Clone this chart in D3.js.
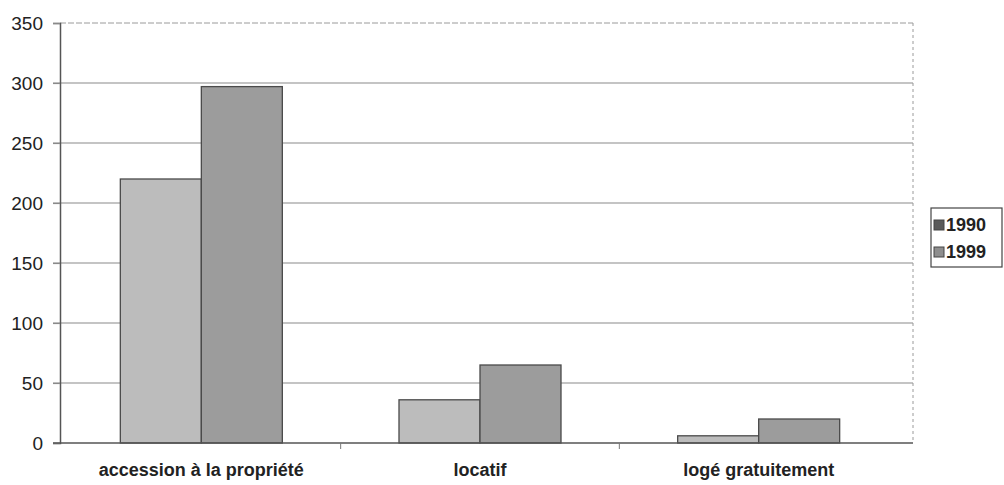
<!DOCTYPE html>
<html>
<head>
<meta charset="utf-8">
<script src="https://cdn.jsdelivr.net/npm/d3@7"></script>
<style>
  html, body { margin: 0; padding: 0; background: #fff; }
  svg { display: block; }
  text { font-family: "Liberation Sans", Arial, sans-serif; fill: #222; }
</style>
</head>
<body>
<svg id="chart" width="1004" height="485"></svg>
<script>
// Housing status counts, 1990 vs 1999
const categories = ["accession à la propriété", "locatif", "logé gratuitement"];
const series = ["1990", "1999"];
const values1990 = [220, 36, 6];
const values1999 = [297, 65, 20];
const yTicks = [0, 50, 100, 150, 200, 250, 300, 350];
const seriesColors = ["#bcbcbc", "#9c9c9c"];
const swatchColors = ["#5a5a5a", "#8e8e8e"];

const valuesBySeries = [values1990, values1999];

const svg = d3.select("#chart");

const plotLeft = 60, plotRight = 913, plotTop = 23, plotBottom = 443;

const y = d3.scaleLinear().domain([0, 350]).range([plotBottom, plotTop]);

const x0 = d3.scaleBand().domain(categories).range([62, 898]).padding(0);
const groupW = 162;
const gOff = (x0.bandwidth() - groupW) / 2;
const x1 = d3.scaleBand().domain(series).range([gOff, gOff + groupW]).padding(0);

// gridlines
svg.append("g")
  .selectAll("line")
  .data(yTicks.filter(d => d > 0 && d < 350))
  .join("line")
  .attr("x1", plotLeft - 7).attr("x2", plotRight)
  .attr("y1", d => y(d)).attr("y2", d => y(d))
  .attr("stroke", "#8a8a8a").attr("stroke-width", 1.2);

// plot frame: faint top and right edges
svg.append("line")
  .attr("x1", plotLeft).attr("x2", plotRight)
  .attr("y1", y(350)).attr("y2", y(350))
  .attr("stroke", "#9a9a9a").attr("stroke-width", 1)
  .attr("stroke-dasharray", "6,2");
svg.append("line")
  .attr("x1", plotRight).attr("x2", plotRight)
  .attr("y1", y(350)).attr("y2", y(0))
  .attr("stroke", "#9a9a9a").attr("stroke-width", 1)
  .attr("stroke-dasharray", "3,3");

// bars
const groups = svg.append("g")
  .selectAll("g")
  .data(categories)
  .join("g")
  .attr("transform", d => `translate(${x0(d)},0)`);

groups.selectAll("rect")
  .data((c, i) => series.map((s, k) => ({ s, k, v: valuesBySeries[k][i] })))
  .join("rect")
  .attr("x", d => x1(d.s))
  .attr("width", x1.bandwidth())
  .attr("y", d => y(d.v))
  .attr("height", d => y(0) - y(d.v))
  .attr("fill", d => seriesColors[d.k])
  .attr("stroke", "#4a4a4a")
  .attr("stroke-width", 1.3);

// y axis
const yAxis = d3.axisLeft(y).tickValues(yTicks).tickSize(7).tickPadding(10);
const gy = svg.append("g")
  .attr("transform", `translate(${plotLeft},0)`)
  .call(yAxis);
gy.select(".domain").attr("stroke", "#555").attr("stroke-width", 1.5);
gy.selectAll(".tick line").attr("stroke", "#8a8a8a").attr("stroke-width", 1.2);
gy.selectAll(".tick text")
  .style("font-family", "'Liberation Sans', Arial, sans-serif")
  .style("font-size", "19px")
  .attr("fill", "#1a1a1a");

// x axis
const xBoundary = d3.scaleBand().domain(categories).range([62, 898]);
const gx = svg.append("g").attr("transform", `translate(0,${plotBottom})`);
gx.append("line")
  .attr("x1", plotLeft - 7).attr("x2", plotRight)
  .attr("stroke", "#555").attr("stroke-width", 1.5);
gx.selectAll("line.sep")
  .data(categories.slice(1))
  .join("line")
  .attr("class", "sep")
  .attr("x1", d => xBoundary(d)).attr("x2", d => xBoundary(d))
  .attr("y1", 0).attr("y2", 6)
  .attr("stroke", "#777");
gx.selectAll("text")
  .data(categories)
  .join("text")
  .attr("x", d => x0(d) + x0.bandwidth() / 2)
  .attr("y", 33)
  .attr("text-anchor", "middle")
  .style("font-size", "18px")
  .style("font-weight", "bold")
  .attr("fill", "#333")
  .text(d => d);

// legend
const lg = svg.append("g").attr("transform", "translate(931,208)");
lg.append("rect")
  .attr("width", 71).attr("height", 59)
  .attr("fill", "#fff").attr("stroke", "#444").attr("stroke-width", 1.2);
const items = lg.selectAll("g.item")
  .data(series)
  .join("g")
  .attr("class", "item")
  .attr("transform", (d, i) => `translate(3,${17 + i * 27})`);
items.append("rect")
  .attr("x", 0).attr("y", -5)
  .attr("width", 10).attr("height", 10)
  .attr("fill", (d, i) => swatchColors[i])
  .attr("stroke", "#444").attr("stroke-width", 1);
items.append("text")
  .attr("x", 12).attr("y", 0)
  .attr("dy", "0.36em")
  .style("font-size", "18px")
  .style("font-weight", "bold")
  .attr("fill", "#2a2a2a")
  .text(d => d);
</script>
</body>
</html>
